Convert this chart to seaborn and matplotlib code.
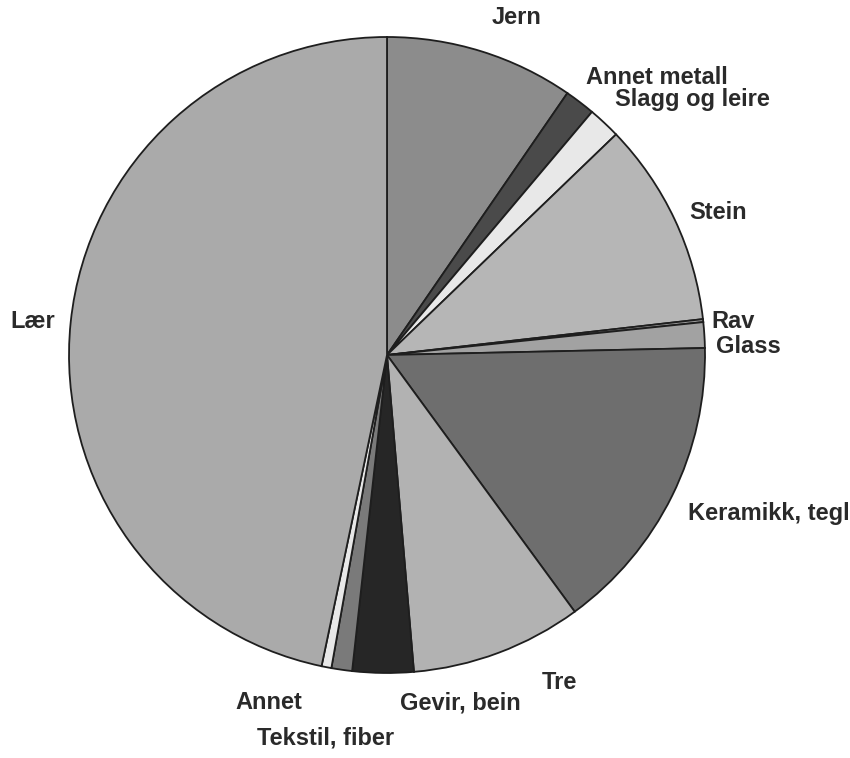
import matplotlib
matplotlib.use("Agg")
import matplotlib.pyplot as plt
import seaborn as sns

# Share of finds by material (percent), clockwise from 12 o'clock
materials = ["Jern", "Annet metall", "Slagg og leire", "Stein", "Rav", "Glass",
             "Keramikk, tegl", "Tre", "Gevir, bein", "Tekstil, fiber", "Annet", "Lær"]
shares = [9.6, 1.55, 1.65, 10.4, 0.15, 1.3, 15.3, 8.7, 3.1, 1.05, 0.5, 46.7]

# Grey fill for each slice
greys = ["#8c8c8c", "#4a4a4a", "#e8e8e8", "#b6b6b6", "#9a9a9a", "#a2a2a2",
         "#6e6e6e", "#b2b2b2", "#262626", "#7a7a7a", "#e8e8e8", "#aaaaaa"]

# Label anchor points in pie units (radius = 1)
label_xy = [(0.409, 1.060), (0.849, 0.874), (0.959, 0.805), (1.041, 0.447),
            (1.088, 0.104), (1.135, 0.028), (1.201, -0.500), (0.541, -1.031),
            (0.230, -1.094), (-0.192, -1.204), (-0.371, -1.094), (-1.113, 0.104)]

sns.set_theme(style="white")
plt.rcParams["font.family"] = ["Liberation Sans", "DejaVu Sans"]

fig = plt.figure(figsize=(8.5, 7.58), dpi=100)
ax = fig.add_axes([0, 0, 1, 1])

ax.pie(shares, colors=greys, startangle=90, counterclock=False, radius=1.0,
       wedgeprops=dict(edgecolor="#1e1e1e", linewidth=1.3))

for name, (x, y) in zip(materials, label_xy):
    ax.text(x, y, name, ha="center", va="center", fontsize=17,
            fontweight="bold", color="#2a2a2a")

ax.set_xlim(-1.217, 1.456)
ax.set_ylim(-1.267, 1.116)
ax.set_aspect("equal")
ax.axis("off")

fig.savefig("out.png", dpi=100, facecolor="white")
